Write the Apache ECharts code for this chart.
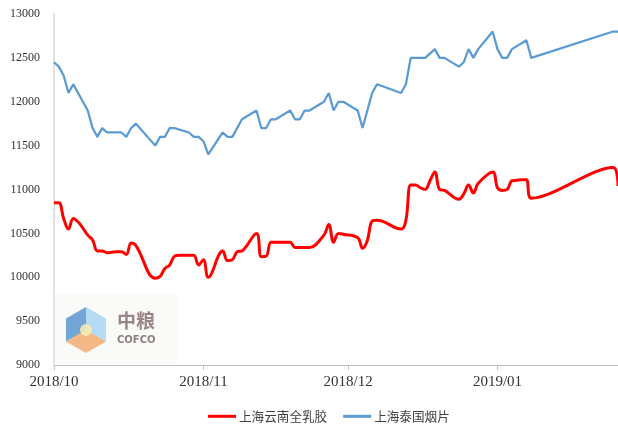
<!DOCTYPE html>
<html>
<head>
<meta charset="utf-8">
<script src="https://cdn.jsdelivr.net/npm/echarts@6/dist/echarts.min.js"></script>
<style>
  html, body { margin: 0; padding: 0; background: #fff; }
  #main { width: 618px; height: 426px; }
</style>
</head>
<body>
<div id="main"></div>
<script type="text/javascript">
    // 日期（部分直线段中间日期在图上读不出，用 null 连线）
    var dates = [
        '2018-10-01','2018-10-02','2018-10-03','2018-10-04','2018-10-05','2018-10-06','2018-10-07','2018-10-08','2018-10-09','2018-10-10',
        '2018-10-11','2018-10-12','2018-10-13','2018-10-14','2018-10-15','2018-10-16','2018-10-17','2018-10-18','2018-10-19','2018-10-20',
        '2018-10-21','2018-10-22','2018-10-23','2018-10-24','2018-10-25','2018-10-26','2018-10-27','2018-10-28','2018-10-29','2018-10-30',
        '2018-10-31','2018-11-01','2018-11-02','2018-11-03','2018-11-04','2018-11-05','2018-11-06','2018-11-07','2018-11-08','2018-11-09',
        '2018-11-10','2018-11-11','2018-11-12','2018-11-13','2018-11-14','2018-11-15','2018-11-16','2018-11-17','2018-11-18','2018-11-19',
        '2018-11-20','2018-11-21','2018-11-22','2018-11-23','2018-11-24','2018-11-25','2018-11-26','2018-11-27','2018-11-28','2018-11-29',
        '2018-11-30','2018-12-01','2018-12-02','2018-12-03','2018-12-04','2018-12-05','2018-12-06','2018-12-07','2018-12-08','2018-12-09',
        '2018-12-10','2018-12-11','2018-12-12','2018-12-13','2018-12-14','2018-12-15','2018-12-16','2018-12-17','2018-12-18','2018-12-19',
        '2018-12-20','2018-12-21','2018-12-22','2018-12-23','2018-12-24','2018-12-25','2018-12-26','2018-12-27','2018-12-28','2018-12-29',
        '2018-12-30','2018-12-31','2019-01-01','2019-01-02','2019-01-03','2019-01-04','2019-01-05','2019-01-06','2019-01-07','2019-01-08',
        '2019-01-25','2019-01-26'
    ];

    // 上海云南全乳胶
    var yunnanSCR = [
        10850,10850,10670,10550,10670,10630,10560,10480,10425,10300,
        10300,10280,10285,10290,10290,10260,10390,10360,null,null,
        null,9990,10010,10100,10140,10240,10250,10250,10250,10250,
        10140,10200,10000,null,null,10300,10190,10200,10290,10300,
        null,null,10500,10235,10240,10400,10400,10400,10400,10400,
        10340,10340,10340,10340,null,null,10480,10600,10400,10500,
        10490,null,null,10450,10330,10420,10640,10650,null,null,
        null,null,10550,10650,11050,11050,11020,11000,11100,11200,
        11000,10990,null,null,10890,10950,11050,10960,11070,null,
        null,11200,11020,10990,11000,11100,11105,11110,11110,10900,
        11250,11040
    ];

    // 上海泰国烟片
    var thaiRSS = [
        12450,12400,12300,12100,12200,null,null,11900,11700,11600,
        11700,11650,null,null,11650,11600,11700,11750,null,null,
        null,11500,11600,11600,11700,11700,null,null,11650,11600,
        11600,11550,11400,null,null,11650,11600,11600,null,11800,
        null,null,11900,11700,11700,11800,11800,null,null,11900,
        11800,11800,11900,11900,null,null,12000,12100,11900,12000,
        12000,null,null,11900,11700,null,12100,12200,null,null,
        null,null,12100,12200,12500,null,null,12500,null,12600,
        12500,12500,null,null,12400,12450,12600,12500,12600,null,
        null,12800,12600,12500,12500,12600,null,null,12700,12500,
        12800,12800
    ];

    var seriesNames = ['上海云南全乳胶', '上海泰国烟片'];

    function pairs(vals) {
        return dates.map(function (d, i) { return [d, vals[i]]; });
    }

    var myChart = echarts.init(document.getElementById('main'), null, {renderer: 'canvas'});

    myChart.setOption({
        backgroundColor: '#fff',
        animation: false,
        grid: {
            left: 54,
            right: 0,
            top: 14,
            bottom: 61,
            containLabel: false
        },
        legend: {
            left: 208,
            top: 410,
            padding: 0,
            icon: 'rect',
            itemWidth: 28,
            itemHeight: 3,
            itemGap: 16,
            textStyle: {
                fontFamily: 'Noto Sans CJK SC',
                fontSize: 12.6,
                color: '#404040',
                padding: [0, 0, 0, -2]
            },
            data: seriesNames
        },
        xAxis: {
            type: 'time',
            min: '2018-10-01',
            max: '2019-01-26',
            splitNumber: 3,
            minInterval: 28 * 24 * 3600 * 1000,
            axisLine: { lineStyle: { color: '#bfbfbf', width: 1 } },
            axisTick: { show: true, length: 5, lineStyle: { color: '#bfbfbf' } },
            axisLabel: {
                formatter: '{yyyy}/{MM}',
                fontFamily: 'Liberation Serif',
                fontSize: 15,
                color: '#333',
                margin: 10,
                showMaxLabel: false
            },
            splitLine: { show: false }
        },
        yAxis: {
            type: 'value',
            min: 9000,
            max: 13000,
            interval: 500,
            axisLine: { show: true, lineStyle: { color: '#d9d9d9', width: 1.5 } },
            axisTick: { show: false },
            axisLabel: {
                formatter: function (v) { return String(v); },
                fontFamily: 'Liberation Serif',
                fontSize: 12,
                color: '#333',
                margin: 14
            },
            splitLine: { show: false }
        },
        graphic: [
            {
                type: 'rect',
                z: -1,
                shape: { x: 55, y: 294, width: 122, height: 70 },
                style: { fill: '#fafaf9' }
            },
            {
                type: 'polygon',
                z: 1,
                shape: { points: [[86, 330], [66, 341.5], [66, 318.5], [86, 307]] },
                style: { fill: '#5b97cf', opacity: 0.85 }
            },
            {
                type: 'polygon',
                z: 1,
                shape: { points: [[86, 330], [86, 307], [106, 318.5], [106, 341.5]] },
                style: { fill: '#a8d3f2', opacity: 0.85 }
            },
            {
                type: 'polygon',
                z: 1,
                shape: { points: [[86, 330], [106, 341.5], [86, 353], [66, 341.5]] },
                style: { fill: '#f1ac72', opacity: 0.85 }
            },
            {
                type: 'circle',
                z: 1,
                shape: { cx: 86, cy: 330, r: 6 },
                style: { fill: '#f3ecb0', opacity: 0.9 }
            },
            {
                type: 'text',
                z: 1,
                left: 117,
                top: 311,
                style: {
                    text: '中粮',
                    fontFamily: 'Noto Sans CJK SC',
                    fontSize: 19,
                    fontWeight: 'bold',
                    fill: '#9a8585'
                }
            },
            {
                type: 'text',
                z: 1,
                left: 117,
                top: 335,
                style: {
                    text: 'COFCO',
                    fontFamily: 'DejaVu Sans',
                    fontSize: 10,
                    fontWeight: 'bold',
                    fill: '#8f7f7f'
                }
            }
        ],
        series: [
            {
                name: seriesNames[0],
                type: 'line',
                data: pairs(yunnanSCR),
                connectNulls: true,
                smooth: 0.4,
                symbol: 'none',
                z: 3,
                lineStyle: { color: '#ff0000', width: 3 },
                itemStyle: { color: '#ff0000' }
            },
            {
                name: seriesNames[1],
                type: 'line',
                data: pairs(thaiRSS),
                connectNulls: true,
                symbol: 'none',
                z: 3,
                lineStyle: { color: '#5b9bd5', width: 2.25 },
                itemStyle: { color: '#5b9bd5' }
            }
        ]
    });
</script>
</body>
</html>
